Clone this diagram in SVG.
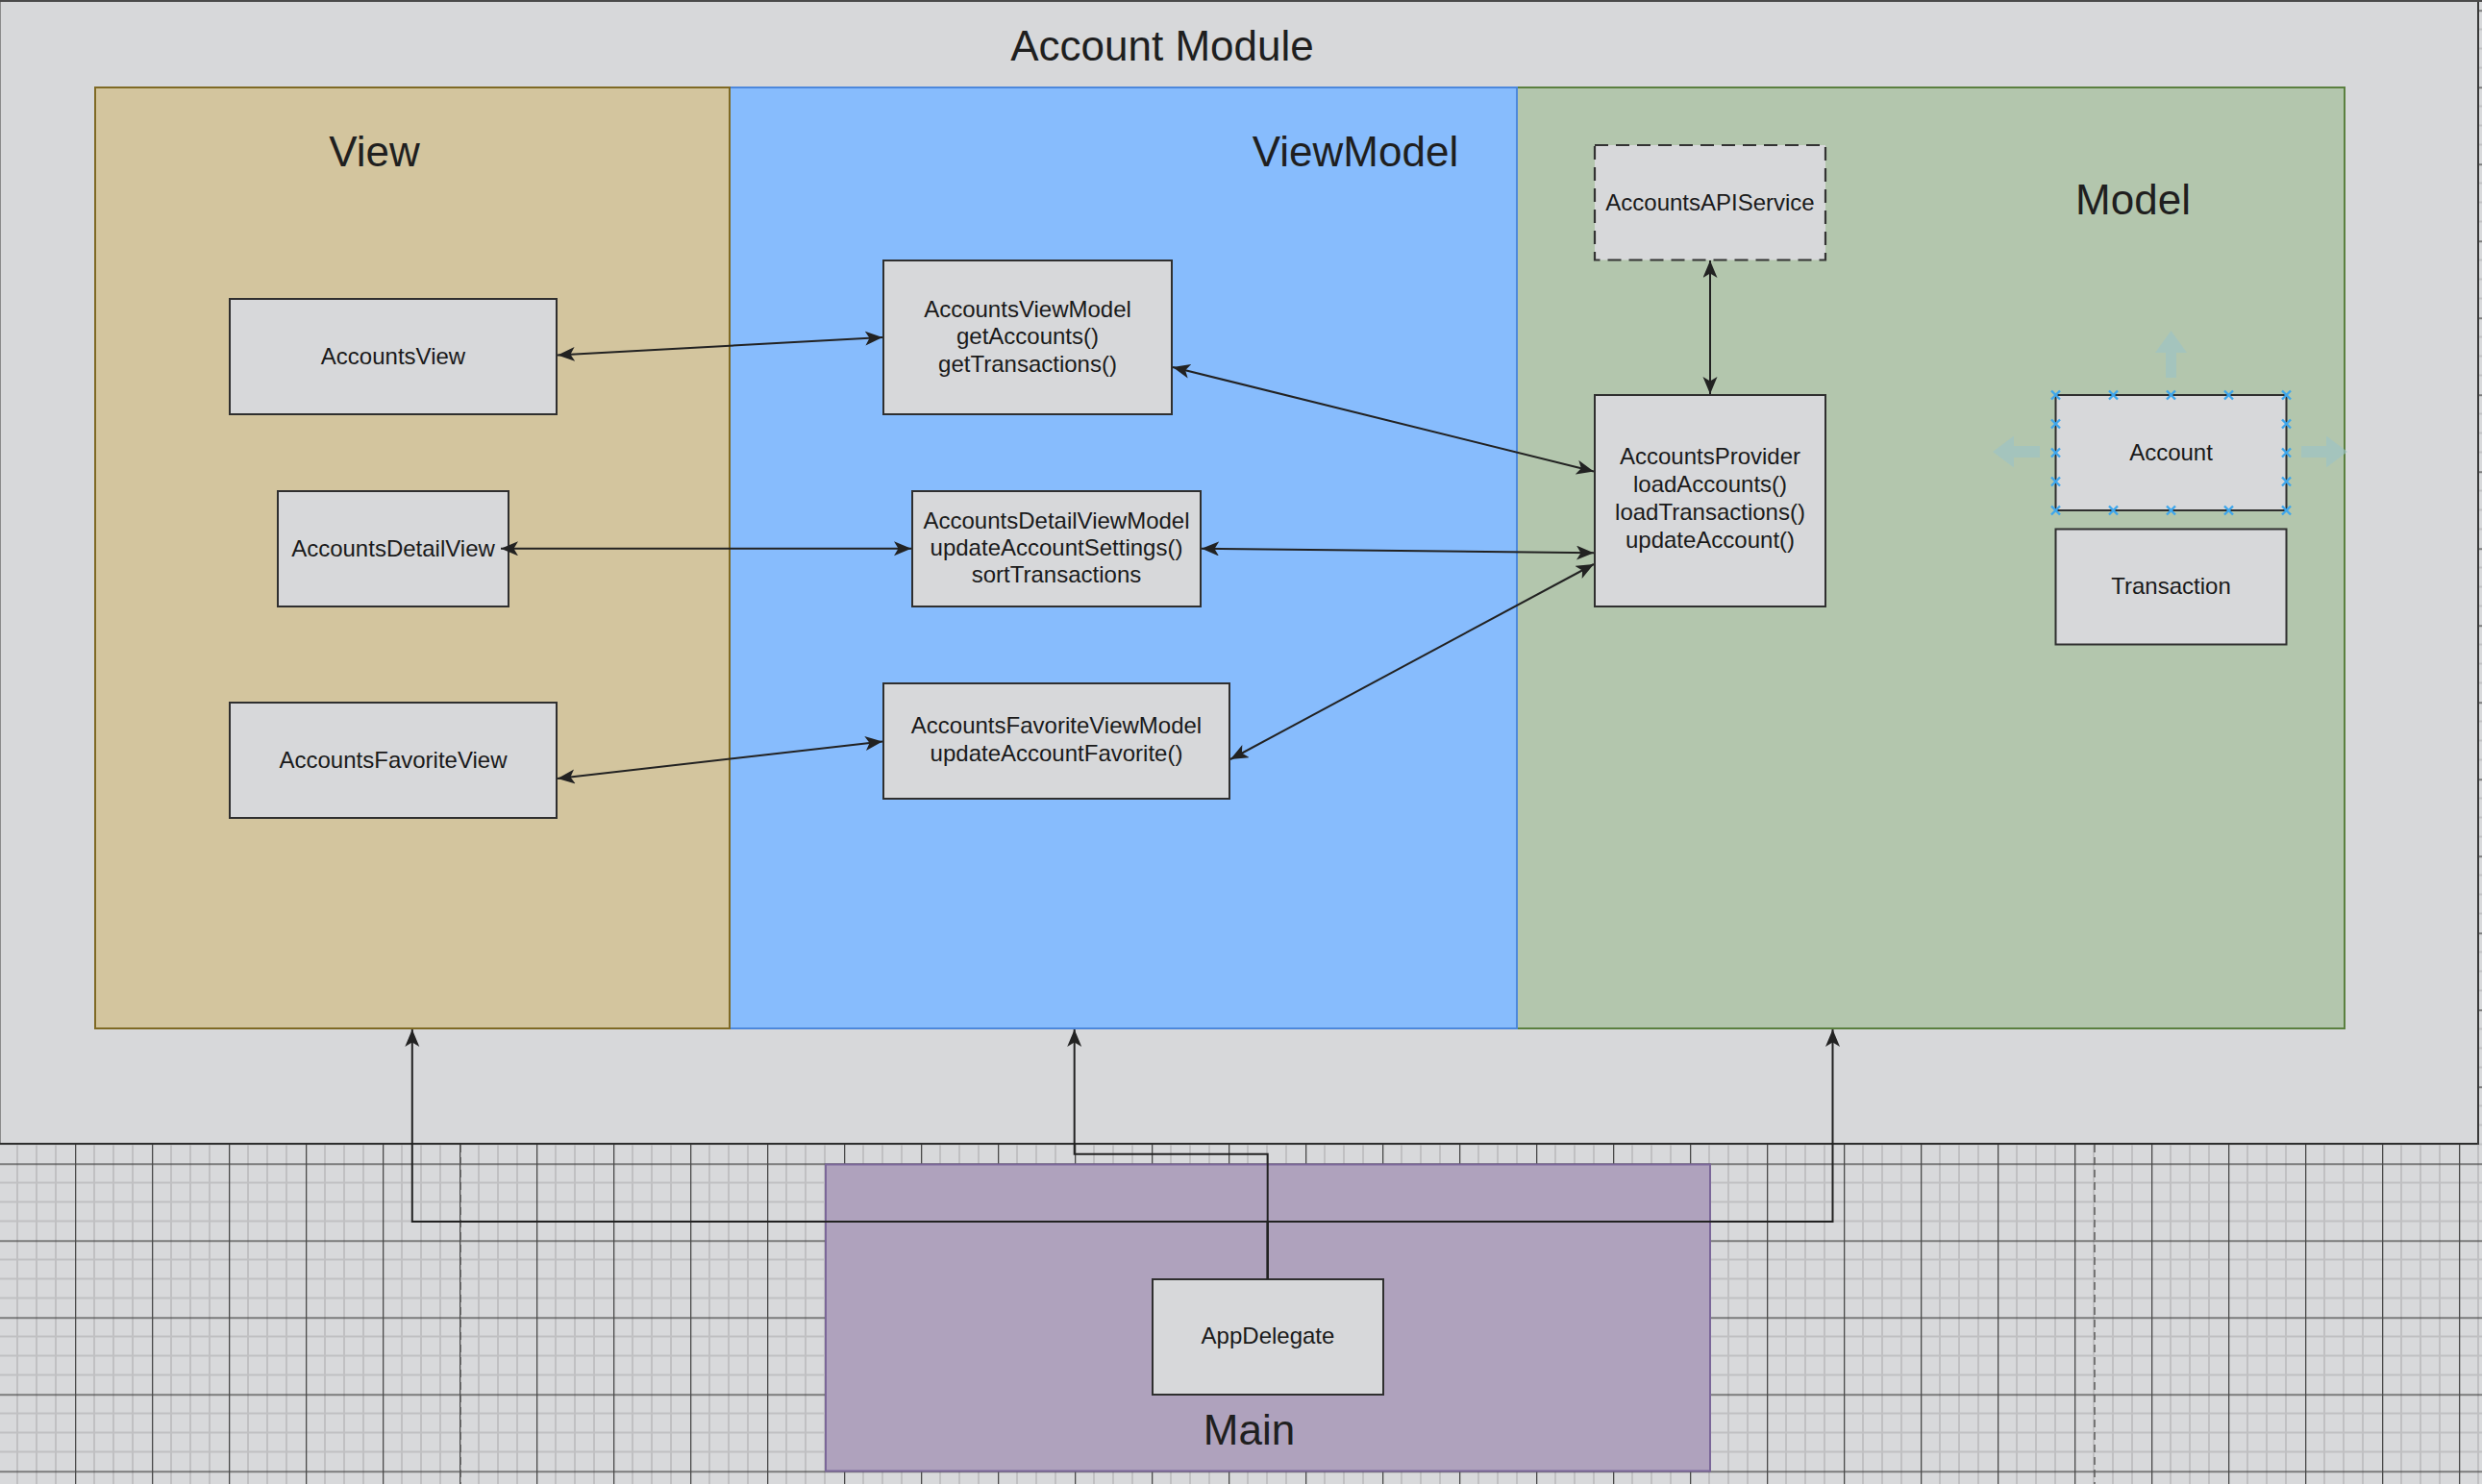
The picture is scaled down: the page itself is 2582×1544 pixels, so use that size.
<svg xmlns="http://www.w3.org/2000/svg" width="2582" height="1544" viewBox="0 0 2582 1544">
  <style>
    .title { font-family: "Liberation Sans", Arial, sans-serif; font-size: 44px; fill: #1f1f1f; text-anchor: middle; }
    .lbl { font-family: "Liberation Sans", Arial, sans-serif; font-size: 24px; fill: #1a1a1a; text-anchor: middle; }
    .node { fill: #d7d8da; stroke: #2f2f2f; stroke-width: 2; }
    .edge { fill: none; stroke: #222; stroke-width: 2; }
    .xm { stroke: #3ea6ec; stroke-width: 2.4; fill: none; }
    .hover { fill: #9cc3c6; fill-opacity: 0.65; }
  </style>
  <defs>
    <pattern id="grid" patternUnits="userSpaceOnUse" x="78" y="10.5" width="80" height="80">
      <rect x="0" y="0" width="80" height="80" fill="#d8d9db"/>
      <rect x="19" y="0" width="2" height="80" fill="#c0c0c2"/>
      <rect x="39" y="0" width="2" height="80" fill="#c0c0c2"/>
      <rect x="59" y="0" width="2" height="80" fill="#c0c0c2"/>
      <rect x="0" y="19" width="80" height="2" fill="#c0c0c2"/>
      <rect x="0" y="39" width="80" height="2" fill="#c0c0c2"/>
      <rect x="0" y="59" width="80" height="2" fill="#c0c0c2"/>
      <rect x="0" y="0" width="1.3" height="80" fill="#4a4a4a"/>
      <rect x="0" y="0" width="80" height="1.3" fill="#4a4a4a"/>
    </pattern>
    <marker id="arr" markerUnits="userSpaceOnUse" markerWidth="20" markerHeight="16" refX="18" refY="7.5" orient="auto-start-reverse">
      <path d="M0,0 L18,7.5 L0,15 L4.5,7.5 Z" fill="#222"/>
    </marker>
  </defs>

  <!-- canvas grid -->
  <rect x="0" y="0" width="2582" height="1544" fill="url(#grid)"/>
  <line x1="479" y1="1191" x2="479" y2="1544" stroke="#5a5a5a" stroke-width="1.5" stroke-dasharray="8,5"/>
  <line x1="2179" y1="1191" x2="2179" y2="1544" stroke="#5a5a5a" stroke-width="1.5" stroke-dasharray="8,5"/>

  <!-- Account Module container -->
  <g id="account-module">
    <rect x="0" y="0" width="2579" height="1191" fill="#d7d8da"/>
    <line x1="0.5" y1="0" x2="0.5" y2="1191" stroke="#8a8a8a" stroke-width="1"/>
    <line x1="0" y1="1190" x2="2579" y2="1190" stroke="#2e2e2e" stroke-width="2"/>
    <line x1="2578" y1="0" x2="2578" y2="1191" stroke="#3a3a3a" stroke-width="2"/>
    <rect x="0" y="0" width="2582" height="2" fill="#4a4a4a"/>
    <text class="title" x="1209" y="62.7">Account Module</text>
  </g>

  <!-- Layer panels -->
  <g id="model-panel">
    <rect x="1578" y="91" width="861" height="979" fill="#b3c6ad" stroke="#5b8040" stroke-width="2"/>
    <text class="title" x="2219" y="223">Model</text>
  </g>
  <g id="viewmodel-panel">
    <rect x="759" y="91" width="819" height="979" fill="#87bcfd" stroke="#4d88dc" stroke-width="2"/>
    <text class="title" x="1410" y="173">ViewModel</text>
  </g>
  <g id="view-panel">
    <rect x="99" y="91" width="660" height="979" fill="#d3c59e" stroke="#7f6a25" stroke-width="2"/>
    <text class="title" x="389.5" y="173">View</text>
  </g>

  <!-- Main container -->
  <g id="main-panel">
    <rect x="859" y="1211.5" width="920" height="319" fill="#afa2bd" stroke="#7b6799" stroke-width="2"/>
    <text class="title" x="1299.5" y="1502.7">Main</text>
  </g>

  <!-- View nodes -->
  <g id="accounts-view">
    <rect class="node" x="239" y="311" width="340" height="120"/>
    <text class="lbl" x="409" y="378.5">AccountsView</text>
  </g>
  <g id="accounts-detail-view">
    <rect class="node" x="289" y="511" width="240" height="120"/>
    <text class="lbl" x="409" y="578.5">AccountsDetailView</text>
  </g>
  <g id="accounts-favorite-view">
    <rect class="node" x="239" y="731" width="340" height="120"/>
    <text class="lbl" x="409" y="798.5">AccountsFavoriteView</text>
  </g>

  <!-- ViewModel nodes -->
  <g id="accounts-viewmodel">
    <rect class="node" x="919" y="271" width="300" height="160"/>
    <text class="lbl" x="1069" y="329.5">AccountsViewModel</text>
    <text class="lbl" x="1069" y="358">getAccounts()</text>
    <text class="lbl" x="1069" y="386.5">getTransactions()</text>
  </g>
  <g id="accounts-detail-viewmodel">
    <rect class="node" x="949" y="511" width="300" height="120"/>
    <text class="lbl" x="1099" y="549.5">AccountsDetailViewModel</text>
    <text class="lbl" x="1099" y="578">updateAccountSettings()</text>
    <text class="lbl" x="1099" y="606">sortTransactions</text>
  </g>
  <g id="accounts-favorite-viewmodel">
    <rect class="node" x="919" y="711" width="360" height="120"/>
    <text class="lbl" x="1099" y="763">AccountsFavoriteViewModel</text>
    <text class="lbl" x="1099" y="792">updateAccountFavorite()</text>
  </g>

  <!-- Model nodes -->
  <g id="accounts-api-service">
    <rect x="1659" y="151" width="240" height="119.5" fill="#d7d8da" stroke="#333" stroke-width="2.2" stroke-dasharray="14,8"/>
    <text class="lbl" x="1779" y="218.5">AccountsAPIService</text>
  </g>
  <g id="accounts-provider">
    <rect class="node" x="1659" y="411" width="240" height="220"/>
    <text class="lbl" x="1779" y="483">AccountsProvider</text>
    <text class="lbl" x="1779" y="512">loadAccounts()</text>
    <text class="lbl" x="1779" y="541">loadTransactions()</text>
    <text class="lbl" x="1779" y="570">updateAccount()</text>
  </g>
  <g id="account">
    <rect class="node" x="2138.5" y="411" width="240" height="120"/>
    <text class="lbl" x="2258.5" y="478.5">Account</text>
    <polygon class="hover" points="2258.5,344 2275,367 2264,367 2264,393 2253,393 2253,367 2242,367"/>
    <polygon class="hover" points="2073,470 2095,453.5 2095,464 2122,464 2122,476 2095,476 2095,486.5"/>
    <polygon class="hover" points="2442,470 2420,453.5 2420,464 2394,464 2394,476 2420,476 2420,486.5"/>
    <g class="xm">
      <path d="M2134,406.5 l9,9 m0,-9 l-9,9"/>
      <path d="M2194,406.5 l9,9 m0,-9 l-9,9"/>
      <path d="M2254,406.5 l9,9 m0,-9 l-9,9"/>
      <path d="M2314,406.5 l9,9 m0,-9 l-9,9"/>
      <path d="M2374,406.5 l9,9 m0,-9 l-9,9"/>
      <path d="M2134,526.5 l9,9 m0,-9 l-9,9"/>
      <path d="M2194,526.5 l9,9 m0,-9 l-9,9"/>
      <path d="M2254,526.5 l9,9 m0,-9 l-9,9"/>
      <path d="M2314,526.5 l9,9 m0,-9 l-9,9"/>
      <path d="M2374,526.5 l9,9 m0,-9 l-9,9"/>
      <path d="M2134,436.5 l9,9 m0,-9 l-9,9"/>
      <path d="M2134,466.5 l9,9 m0,-9 l-9,9"/>
      <path d="M2134,496.5 l9,9 m0,-9 l-9,9"/>
      <path d="M2374,436.5 l9,9 m0,-9 l-9,9"/>
      <path d="M2374,466.5 l9,9 m0,-9 l-9,9"/>
      <path d="M2374,496.5 l9,9 m0,-9 l-9,9"/>
    </g>
  </g>
  <g id="transaction">
    <rect class="node" x="2138.5" y="550.5" width="240" height="120"/>
    <text class="lbl" x="2258.5" y="618">Transaction</text>
  </g>

  <!-- Main node -->
  <g id="app-delegate">
    <rect class="node" x="1199" y="1331" width="240" height="120"/>
    <text class="lbl" x="1319" y="1398">AppDelegate</text>
  </g>

  <!-- Connectors -->
  <g id="connectors">
    <line class="edge" x1="580" y1="369.5" x2="918" y2="351" marker-start="url(#arr)" marker-end="url(#arr)"/>
    <line class="edge" x1="1220" y1="382" x2="1658" y2="490.5" marker-start="url(#arr)" marker-end="url(#arr)"/>
    <line class="edge" x1="521" y1="570.8" x2="948" y2="570.8" marker-start="url(#arr)" marker-end="url(#arr)"/>
    <line class="edge" x1="1250" y1="570.8" x2="1658" y2="575.3" marker-start="url(#arr)" marker-end="url(#arr)"/>
    <line class="edge" x1="580" y1="810" x2="918" y2="771.5" marker-start="url(#arr)" marker-end="url(#arr)"/>
    <line class="edge" x1="1280" y1="790" x2="1658" y2="587" marker-start="url(#arr)" marker-end="url(#arr)"/>
    <line class="edge" x1="1779" y1="271" x2="1779" y2="410" marker-start="url(#arr)" marker-end="url(#arr)"/>
    <path class="edge" d="M1318.7,1331 V1271 H428.8 V1071" marker-end="url(#arr)"/>
    <path class="edge" d="M1318.7,1331 V1200.7 H1117.7 V1071" marker-end="url(#arr)"/>
    <path class="edge" d="M1318.7,1331 V1271 H1906.5 V1071" marker-end="url(#arr)"/>
  </g>
</svg>
